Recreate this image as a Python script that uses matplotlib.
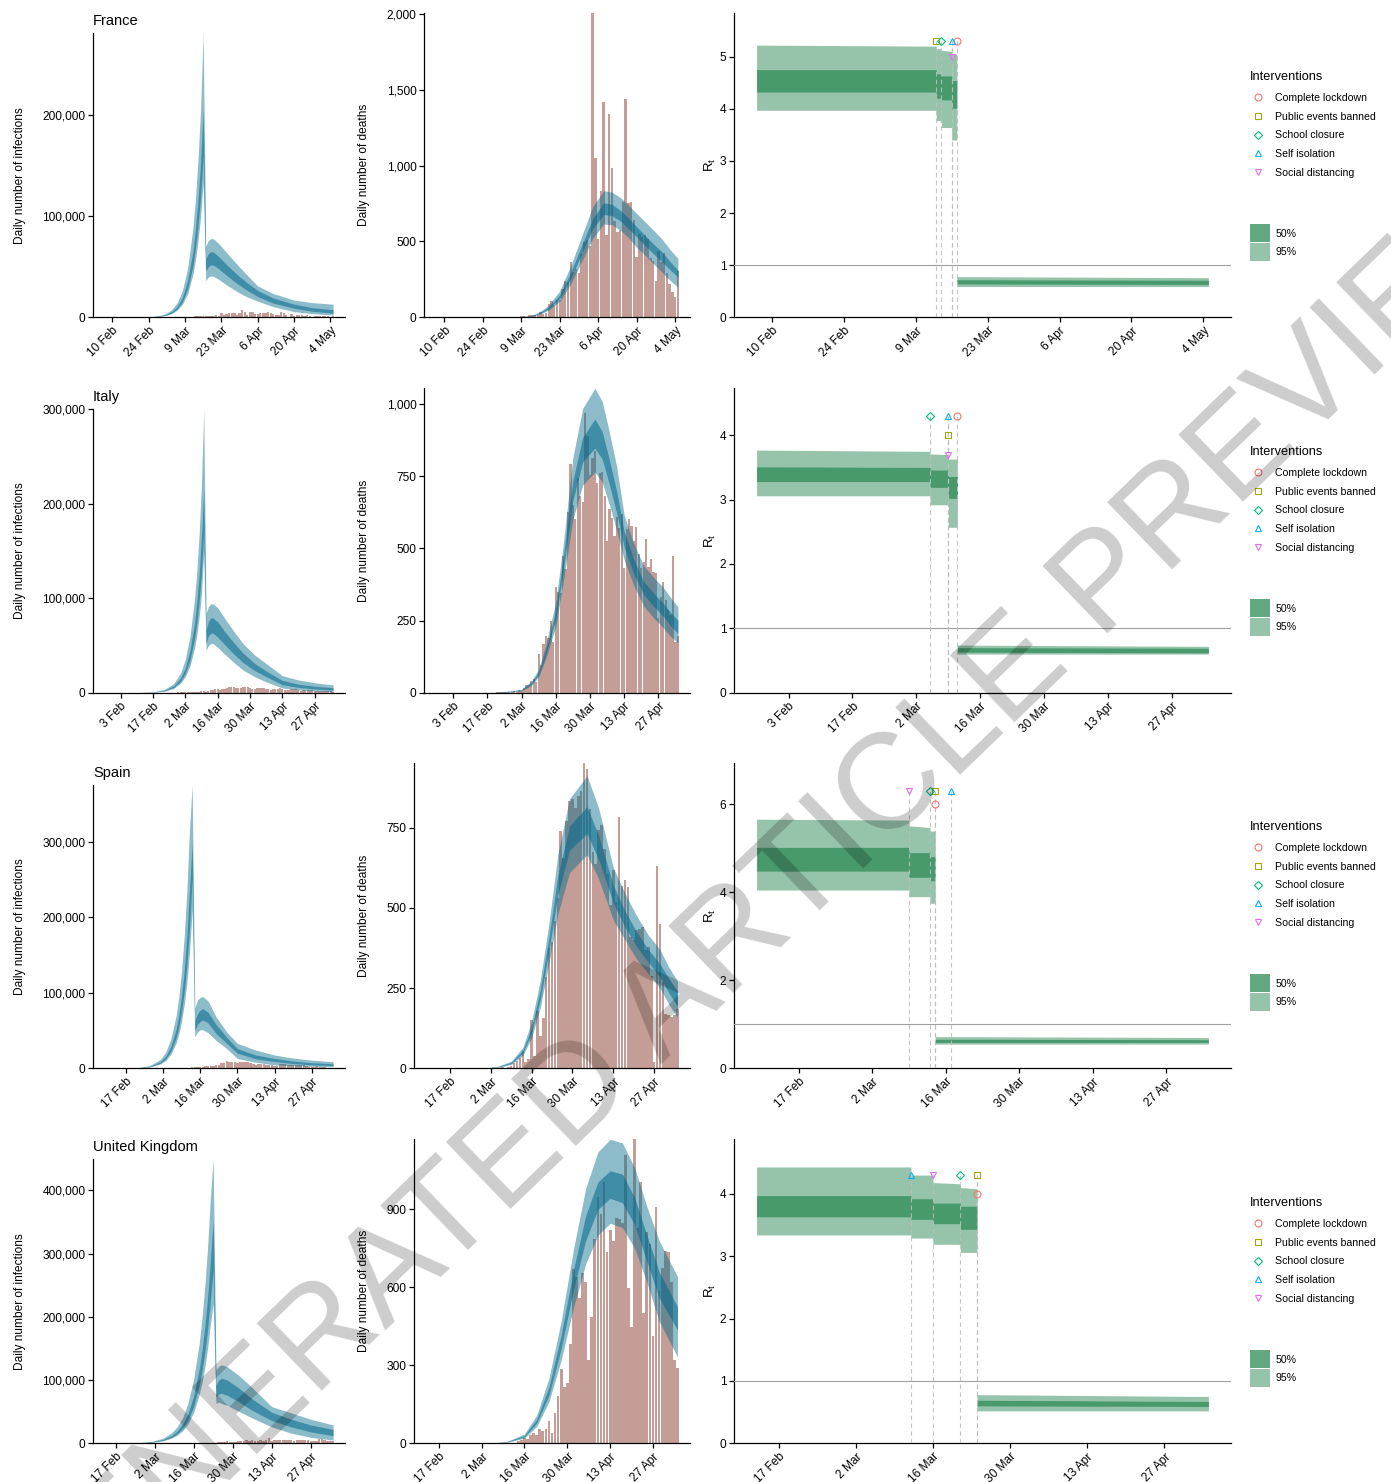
import numpy as np
import pandas as pd
import matplotlib
matplotlib.use("Agg")
import matplotlib.pyplot as plt
from matplotlib.lines import Line2D
from matplotlib.patches import Patch
from matplotlib.ticker import FuncFormatter, MultipleLocator
import matplotlib.dates as mdates

plt.rcParams['font.family'] = ['Liberation Sans', 'DejaVu Sans']
plt.rcParams['mathtext.fontset'] = 'custom'
plt.rcParams['mathtext.rm'] = 'Liberation Sans'

W, H = 1391, 1482

# ---------------- France ----------------
fr_start, fr_end, fr_tick0 = "02-07", "05-05", "02-10"
fr_inf_dates = ["02-07", "02-16", "02-22", "02-26", "02-29", "03-02", "03-04", "03-06", "03-08", "03-10",
                "03-12", "03-13", "03-14", "03-15", "03-16", "03-17", "03-18", "03-19", "03-20", "03-22",
                "03-25", "03-29", "04-02", "04-06", "04-12", "04-20", "04-27", "05-05"]
fr_inf_lo95 = [0, 0.03, 0.15, 0.48, 1.1, 2.1, 3.8, 7.0, 12.8, 23, 42, 56, 75, 99, 133,
               36, 40, 41, 40.5, 37.5, 32, 25.5, 20, 16, 10.5, 5.6, 3.6, 2.3]
fr_inf_lo50 = [0, 0.036, 0.18, 0.58, 1.35, 2.5, 4.5, 8.4, 15.3, 28, 50, 68, 90, 119, 160,
               46, 50, 52, 51.5, 48, 41.5, 33.5, 26.5, 20.5, 14, 9, 6, 4]
fr_inf_hi50 = [0.006, 0.046, 0.23, 0.74, 1.7, 3.2, 5.8, 10.7, 19.6, 36, 64, 86, 115, 152, 205,
               58, 63, 65, 64.5, 60, 52, 42.5, 34, 26.5, 19, 13, 9.5, 7.5]
fr_inf_hi95 = [0.008, 0.062, 0.31, 0.99, 2.3, 4.3, 7.8, 14.4, 26.4, 48, 87, 116, 155, 205, 281,
               70, 76, 78, 77.5, 73, 64, 52.5, 41.5, 31, 23.5, 17, 14.5, 13]
fr_cases_start = "03-10"
fr_cases = [370, 500, 600, 800, 800, 900, 1200, 1100, 1100, 1400, 1600, 1800, 1600, 3800, 2400, 2900,
            3900, 3800, 4600, 2600, 4400, 7600,
            4900, 2100, 5200, 5200, 3400, 2800, 3900, 4300, 4300, 4800, 4300, 3100, 2700, 2700, 5500,
            4600, 2600, 400, 2800, 1200, 2400, 2700, 1800, 1700, 1800, 1000, 450, 1400, 1500, 800,
            1100, 900, 800, 600, 800]
fr_dth_dates = ["02-07", "03-01", "03-09", "03-13", "03-16", "03-19", "03-23", "03-27", "03-31", "04-04",
                "04-08", "04-11", "04-14", "04-17", "04-20", "04-23", "04-26", "04-29", "05-02", "05-05"]
fr_dth_lo95 = [0, 0, 2, 7, 22, 48, 105, 220, 370, 520, 615, 610, 575, 525, 460, 410, 355, 300, 245, 200]
fr_dth_lo50 = [0, 0, 3, 9, 27, 57, 125, 255, 420, 585, 678, 670, 635, 585, 530, 475, 420, 370, 315, 267]
fr_dth_hi50 = [0, 0.5, 4, 11, 33, 68, 148, 295, 475, 650, 755, 745, 705, 655, 596, 540, 485, 435, 370, 311]
fr_dth_hi95 = [0, 1, 5, 14, 40, 80, 175, 340, 535, 730, 835, 825, 790, 740, 684, 630, 575, 520, 450, 388]
fr_deaths_start = "02-26"
fr_deaths = [1, 0, 0, 0,
             0, 1, 1, 0, 2, 2, 3, 2, 9, 11, 3, 15, 13, 18, 12, 36, 21, 27, 89, 108, 78, 112, 112, 186,
             240, 231, 365, 299, 319, 292, 418,
             499, 509, 471, 2004, 1053, 518, 833, 1417, 541, 1341, 987, 635, 561, 574, 762, 1438, 753,
             761, 642, 395, 547, 531, 544, 516, 389, 369, 242, 437, 367, 427,
             289, 218, 166, 135, 306]
fr_rt_dates = ["02-07", "03-13", "03-13", "03-14", "03-14", "03-16", "03-16", "03-17", "03-17", "05-05"]
fr_rt_lo95 = [3.97, 3.97, 3.77, 3.77, 3.64, 3.64, 3.40, 3.40, 0.59, 0.59]
fr_rt_lo50 = [4.32, 4.32, 4.20, 4.20, 4.17, 4.17, 4.01, 4.01, 0.64, 0.63]
fr_rt_hi50 = [4.75, 4.75, 4.67, 4.67, 4.63, 4.63, 4.54, 4.54, 0.72, 0.71]
fr_rt_hi95 = [5.22, 5.20, 5.15, 5.15, 5.12, 5.10, 5.05, 5.05, 0.78, 0.76]
fr_int_dates = ["03-17", "03-13", "03-14", "03-16", "03-16"]
fr_int_y = [5.3, 5.3, 5.3, 5.3, 5.0]

# ---------------- Italy ----------------
it_start, it_end, it_tick0 = "01-27", "05-05", "02-03"
it_inf_dates = ["01-27", "02-03", "02-10", "02-17", "02-22", "02-26", "02-29", "03-02", "03-04", "03-06",
                "03-07", "03-08", "03-09", "03-10", "03-11", "03-12", "03-13", "03-14", "03-16", "03-19",
                "03-23", "03-27", "04-01", "04-06", "04-13", "04-20", "04-27", "05-05"]
it_inf_lo95 = [0, 0.01, 0.07, 0.45, 1.6, 4.6, 10, 17, 28, 47, 61, 79, 104, 148,
               45, 50, 52, 52, 48, 41, 32, 24, 17, 11.5, 5, 3, 1.8, 1.1]
it_inf_lo50 = [0, 0.013, 0.085, 0.55, 2.0, 5.6, 12.2, 20.5, 34, 57, 74, 96, 126, 172,
               52, 60, 63, 63, 59, 51, 41, 32, 23.5, 17, 8.5, 5.6, 4, 2.8]
it_inf_hi50 = [0.005, 0.018, 0.11, 0.7, 2.6, 7.2, 15.6, 26, 44, 73, 95, 124, 162, 215,
               66, 75, 79, 79, 75, 65, 53, 42, 31, 23, 13, 9, 6.8, 5.2]
it_inf_hi95 = [0.01, 0.025, 0.15, 0.95, 3.5, 9.7, 21, 35, 59, 99, 128, 167, 220, 300,
               84, 91, 94, 94, 90, 79, 65, 52, 40, 31, 18, 13.5, 10.5, 8.2]
it_cases_start = "02-24"
it_cases = [53, 97, 93, 78, 250, 238,
            240, 561, 347, 466, 587, 769, 778, 1247, 1492, 1797, 977, 2313, 2651, 2547, 3497, 3590,
            3233, 3526, 4207, 5322, 5986, 6557, 5560, 4789, 5249, 5210, 6153, 5959, 5974, 5217, 4050,
            4053, 4782, 4668, 4585, 4805, 4316, 3599, 3039, 3836, 4204, 3951, 4694, 4092, 3153, 2972,
            2667, 3786, 3493, 3491, 3047, 2256, 2729, 3370, 2646, 3021, 2357, 2324, 1739, 2091, 2086,
            1872, 1965, 1900, 1389, 1221]
it_dth_dates = ["01-27", "02-20", "02-26", "03-02", "03-06", "03-09", "03-12", "03-16", "03-19", "03-23",
                "03-27", "04-01", "04-04", "04-07", "04-10", "04-13", "04-17", "04-21", "04-25", "04-29",
                "05-02", "05-05"]
it_dth_lo95 = [0, 0, 3, 6, 25, 55, 120, 230, 380, 600, 720, 765, 730, 650, 560, 460, 370, 300, 260, 225, 195, 172]
it_dth_lo50 = [0, 0, 4, 8, 30, 63, 135, 255, 420, 665, 800, 848, 810, 720, 620, 505, 410, 340, 300, 265, 232, 205]
it_dth_hi50 = [0, 0.5, 5, 10, 35, 72, 150, 285, 465, 735, 885, 948, 905, 805, 695, 560, 460, 385, 345, 310, 278, 251]
it_dth_hi95 = [0, 1, 6, 12, 40, 82, 168, 315, 510, 815, 985, 1055, 1010, 900, 780, 615, 515, 440, 400, 365, 330, 298]
it_deaths_start = "02-21"
it_deaths = [1, 1, 1, 1, 4, 3, 2, 5, 4,
             8, 5, 18, 27, 28, 41, 49, 36, 133, 97, 168, 196, 189, 250, 175, 368, 349, 345, 475, 427,
             627, 793, 651, 601, 743, 683, 662, 969, 889, 756, 812,
             837, 727, 760, 766, 681, 525, 636, 604, 542, 610, 570, 619, 431, 566, 602, 578, 525, 575,
             482, 433, 454, 534, 437, 464, 420, 415, 260, 333, 382, 323,
             285, 269, 474, 174, 195]
it_rt_dates = ["01-27", "03-05", "03-05", "03-09", "03-09", "03-11", "03-11", "05-05"]
it_rt_lo95 = [3.06, 3.06, 2.92, 2.92, 2.57, 2.57, 0.60, 0.60]
it_rt_lo50 = [3.28, 3.28, 3.19, 3.19, 3.02, 3.02, 0.63, 0.62]
it_rt_hi50 = [3.51, 3.50, 3.46, 3.46, 3.36, 3.36, 0.70, 0.69]
it_rt_hi95 = [3.77, 3.75, 3.71, 3.70, 3.63, 3.63, 0.74, 0.72]
it_int_dates = ["03-11", "03-09", "03-05", "03-09", "03-09"]
it_int_y = [4.3, 4.0, 4.3, 4.3, 3.7]

# ---------------- Spain ----------------
es_start, es_end, es_tick0 = "02-09", "05-05", "02-17"
es_inf_dates = ["02-09", "02-17", "02-22", "02-26", "03-01", "03-03", "03-05", "03-07", "03-08", "03-09",
                "03-10", "03-11", "03-12", "03-13", "03-14", "03-15", "03-16", "03-17", "03-19", "03-22",
                "03-26", "03-30", "04-06", "04-13", "04-20", "04-27", "05-05"]
es_inf_lo95 = [0, 0.12, 0.52, 1.7, 5.6, 10.2, 18.5, 34, 46, 62, 84, 113, 153, 210,
               42, 48, 51, 51, 47, 37, 26, 13, 8, 4.4, 3.2, 2.6, 2.2]
es_inf_lo50 = [0.01, 0.14, 0.63, 2.1, 6.8, 12.3, 22.5, 41, 55, 75, 101, 136, 184, 253,
               50, 58, 62, 64, 60, 46, 33, 20, 12.5, 9, 6.3, 4.6, 3.6]
es_inf_hi50 = [0.015, 0.18, 0.8, 2.6, 8.6, 15.7, 28.7, 52, 70, 95, 129, 174, 235, 298,
               63, 72, 77, 79, 74, 58, 41, 26, 17.5, 13, 9.5, 7.4, 6]
es_inf_hi95 = [0.02, 0.25, 1.1, 3.6, 11.6, 21, 39, 70, 95, 129, 174, 234, 316, 375,
               80, 90, 94, 95, 89, 68, 48, 33, 24, 17.6, 13.5, 10.8, 8.8]
es_cases_start = "03-05"
es_cases = [200, 150, 250, 350, 550, 600, 600, 900, 1300, 1500, 2000, 1400, 1900, 2500, 2800, 3500,
            3700, 3900, 4500, 6400, 7400, 9600, 8600, 8400, 8200, 6500, 7800,
            8200, 7700, 8100, 7100, 6000, 4300, 5500, 6200, 5800, 4600, 4800, 4800, 3300, 3500, 5100,
            5100, 5300, 4500, 4200, 4200, 4000, 4200, 4600, 4500, 3000, 1700, 1800, 2100, 2400, 1300,
            1200, 1100, 900, 800, 700]
es_dth_dates = ["02-09", "02-28", "03-04", "03-09", "03-13", "03-16", "03-19", "03-22", "03-25", "03-29",
                "04-04", "04-08", "04-13", "04-17", "04-21", "04-25", "04-29", "05-02", "05-05"]
es_dth_lo95 = [0, 0, 2, 12, 40, 95, 190, 330, 480, 610, 665, 590, 462, 400, 340, 295, 250, 200, 158]
es_dth_lo50 = [0, 0, 3, 15, 48, 110, 215, 370, 540, 680, 731, 650, 515, 440, 380, 330, 285, 235, 194]
es_dth_hi50 = [0, 0.5, 4, 18, 56, 125, 245, 410, 600, 755, 815, 725, 570, 490, 425, 370, 325, 280, 241]
es_dth_hi95 = [0, 1, 5, 22, 65, 145, 275, 455, 665, 840, 911, 810, 625, 545, 475, 415, 370, 315, 272]
es_deaths_start = "03-03"
es_deaths = [1, 0, 1, 3, 2, 5, 7, 18, 23, 33, 54, 20, 30, 150, 38, 179, 100, 158, 283, 376, 392, 459,
             532, 738, 655, 769, 832, 838, 812,
             849, 864, 950, 932, 809, 674, 637, 743, 757, 683, 605, 510, 619, 517, 783, 567, 585, 565,
             410, 399, 430, 435, 440, 367, 378, 288, 20, 630, 449, 268,
             170, 165, 160, 165, 185]
es_rt_dates = ["02-09", "03-09", "03-09", "03-13", "03-13", "03-14", "03-14", "05-05"]
es_rt_lo95 = [4.05, 4.05, 3.90, 3.90, 3.75, 3.75, 0.55, 0.55]
es_rt_lo50 = [4.48, 4.48, 4.34, 4.34, 4.26, 4.26, 0.59, 0.59]
es_rt_hi50 = [5.02, 5.02, 4.90, 4.90, 4.81, 4.81, 0.66, 0.65]
es_rt_hi95 = [5.66, 5.64, 5.51, 5.47, 5.39, 5.39, 0.72, 0.70]
es_int_dates = ["03-14", "03-14", "03-13", "03-17", "03-09"]
es_int_y = [6.0, 6.3, 6.3, 6.3, 6.3]

# ---------------- United Kingdom ----------------
uk_start, uk_end, uk_tick0 = "02-13", "05-05", "02-17"
uk_inf_dates = ["02-13", "02-19", "02-25", "03-01", "03-05", "03-08", "03-10", "03-12", "03-14", "03-16",
                "03-18", "03-19", "03-20", "03-21", "03-22", "03-23", "03-24", "03-25", "03-26", "03-28",
                "04-01", "04-06", "04-13", "04-20", "04-27", "05-05"]
uk_inf_lo95 = [0.03, 0.11, 0.4, 1.5, 3.9, 7.9, 12.4, 19.5, 31, 49, 77, 96, 120, 150, 188, 221,
               63, 65, 63, 60, 51, 40, 26, 16, 9.5, 5]
uk_inf_lo50 = [0.035, 0.13, 0.48, 1.8, 4.7, 9.5, 14.9, 23.4, 37, 58, 92, 115, 144, 180, 225, 274,
               73, 78, 79, 76, 66, 52, 36, 26, 18, 12]
uk_inf_hi50 = [0.045, 0.16, 0.61, 2.3, 6.0, 12.1, 19, 30, 47, 75, 117, 147, 184, 230, 288, 353,
               92, 100, 103, 100, 88, 70, 49, 38, 29, 22]
uk_inf_hi95 = [0.06, 0.22, 0.82, 3.1, 8.1, 16.3, 25.6, 40, 64, 101, 158, 198, 248, 310, 388, 449,
               116, 122, 124, 121, 108, 88, 58, 48, 38, 29]
uk_cases_start = "03-10"
uk_cases = [50, 80, 130, 210, 340, 340, 250, 150, 400, 680, 640, 710, 670, 970, 970, 1430, 1450, 2130,
            2890, 2550, 2430, 2620,
            3010, 4320, 4240, 4450, 3740, 5900, 3800, 3630, 5490, 4340, 5200, 7900, 4340, 5250, 4600,
            4620, 5600, 5530, 5850, 4680, 4300, 4450, 4450, 5380, 4910, 4460, 4310, 3990, 4080, 6030,
            6200, 4800, 4340, 4340, 3990]
uk_dth_dates = ["02-13", "03-05", "03-10", "03-16", "03-20", "03-24", "03-28", "04-01", "04-05", "04-09",
                "04-13", "04-17", "04-21", "04-25", "04-29", "05-05"]
uk_dth_lo95 = [0, 0, 3, 20, 65, 160, 320, 520, 690, 800, 846, 830, 750, 620, 470, 333]
uk_dth_lo50 = [0, 0, 4, 25, 78, 185, 365, 590, 780, 900, 942, 925, 840, 700, 560, 436]
uk_dth_hi50 = [0, 1, 5, 30, 92, 215, 415, 665, 875, 1005, 1048, 1035, 945, 800, 660, 525]
uk_dth_hi95 = [0, 2, 6, 36, 108, 250, 470, 745, 980, 1120, 1169, 1155, 1060, 910, 780, 641]
uk_deaths_start = "03-10"
uk_deaths = [1, 2, 1, 1, 10, 14, 20, 16, 33, 40, 33,
             56, 48, 54, 87, 41, 115, 181, 285, 218, 230, 381,
             669, 641, 558, 654, 621, 320, 487, 786, 949, 881, 1006, 737, 820, 778, 865, 861, 847, 1109,
             596, 449, 1169, 828, 1006, 500, 813, 768, 413, 910, 586, 674,
             739, 737, 621, 320, 290]
uk_rt_dates = ["02-13", "03-12", "03-12", "03-16", "03-16", "03-21", "03-21", "03-24", "03-24", "05-05"]
uk_rt_lo95 = [3.34, 3.34, 3.29, 3.29, 3.19, 3.19, 3.06, 3.06, 0.52, 0.52]
uk_rt_lo50 = [3.63, 3.63, 3.59, 3.59, 3.52, 3.52, 3.43, 3.43, 0.60, 0.59]
uk_rt_hi50 = [3.97, 3.97, 3.92, 3.92, 3.85, 3.85, 3.80, 3.80, 0.69, 0.67]
uk_rt_hi95 = [4.43, 4.43, 4.30, 4.30, 4.18, 4.16, 4.10, 4.08, 0.78, 0.75]
uk_int_dates = ["03-24", "03-24", "03-21", "03-12", "03-16"]
uk_int_y = [4.0, 4.3, 4.3, 4.3, 4.3]

interventions = ["Complete lockdown", "Public events banned", "School closure", "Self isolation",
                 "Social distancing"]
int_markers = ["o", "s", "D", "^", "v"]
int_msize = [5, 4.6, 4.0, 5, 5]
int_colors = ["#F8766D", "#A3A500", "#00BF7D", "#00B0F6", "#E76BF3"]

deaths_step = [500, 250, 250, 300]
rt_step = [1, 1, 2, 1]

BLUE = "#00688B"      # deepskyblue4
SEA = "#2E8B57"       # seagreen
CORAL = "#8B3E2F"     # coral4

# pixel layout of the reference
row_bottom = [317.3, 692.7, 1068.3, 1443.3]
col1_top = [33.3, 409.3, 785.0, 1159.3]
col23_top = [13.3, 388.3, 763.3, 1139.3]
col2_left = [424, 424, 414, 414]


def d(s):
    return pd.Timestamp("2020-" + s)


def dl(lst):
    return pd.to_datetime(["2020-" + s for s in lst])


countries = [
    dict(name="France", start=fr_start, end=fr_end, tick0=fr_tick0,
         inf=(fr_inf_dates, fr_inf_lo95, fr_inf_lo50, fr_inf_hi50, fr_inf_hi95),
         cases=(fr_cases_start, fr_cases),
         dth=(fr_dth_dates, fr_dth_lo95, fr_dth_lo50, fr_dth_hi50, fr_dth_hi95),
         deaths=(fr_deaths_start, fr_deaths),
         rt=(fr_rt_dates, fr_rt_lo95, fr_rt_lo50, fr_rt_hi50, fr_rt_hi95),
         ints=(fr_int_dates, fr_int_y)),
    dict(name="Italy", start=it_start, end=it_end, tick0=it_tick0,
         inf=(it_inf_dates, it_inf_lo95, it_inf_lo50, it_inf_hi50, it_inf_hi95),
         cases=(it_cases_start, it_cases),
         dth=(it_dth_dates, it_dth_lo95, it_dth_lo50, it_dth_hi50, it_dth_hi95),
         deaths=(it_deaths_start, it_deaths),
         rt=(it_rt_dates, it_rt_lo95, it_rt_lo50, it_rt_hi50, it_rt_hi95),
         ints=(it_int_dates, it_int_y)),
    dict(name="Spain", start=es_start, end=es_end, tick0=es_tick0,
         inf=(es_inf_dates, es_inf_lo95, es_inf_lo50, es_inf_hi50, es_inf_hi95),
         cases=(es_cases_start, es_cases),
         dth=(es_dth_dates, es_dth_lo95, es_dth_lo50, es_dth_hi50, es_dth_hi95),
         deaths=(es_deaths_start, es_deaths),
         rt=(es_rt_dates, es_rt_lo95, es_rt_lo50, es_rt_hi50, es_rt_hi95),
         ints=(es_int_dates, es_int_y)),
    dict(name="United Kingdom", start=uk_start, end=uk_end, tick0=uk_tick0,
         inf=(uk_inf_dates, uk_inf_lo95, uk_inf_lo50, uk_inf_hi50, uk_inf_hi95),
         cases=(uk_cases_start, uk_cases),
         dth=(uk_dth_dates, uk_dth_lo95, uk_dth_lo50, uk_dth_hi50, uk_dth_hi95),
         deaths=(uk_deaths_start, uk_deaths),
         rt=(uk_rt_dates, uk_rt_lo95, uk_rt_lo50, uk_rt_hi50, uk_rt_hi95),
         ints=(uk_int_dates, uk_int_y)),
]

fig = plt.figure(figsize=(W / 100, H / 100), dpi=100)


def add_ax(l, t, r, b):
    return fig.add_axes([l / W, 1 - b / H, (r - l) / W, (b - t) / H])


def date_label(x, pos):
    dt = mdates.num2date(x)
    return f"{dt.day} {dt:%b}"


def style(ax, c):
    for s in ("top", "right"):
        ax.spines[s].set_visible(False)
    for s in ("left", "bottom"):
        ax.spines[s].set_linewidth(0.9)
    ax.tick_params(length=3.5, width=0.9, labelsize=8.6, colors="black", pad=2)
    start, end = d(c["start"]), d(c["end"])
    pad = pd.Timedelta(days=0.05 * (end - start).days)
    lo, hi = start - pad, end + pad
    ax.set_xlim(lo, hi)
    ticks = [t for t in pd.date_range(d(c["tick0"]), hi, freq="14D") if t <= hi]
    ax.set_xticks(ticks)
    ax.xaxis.set_major_formatter(FuncFormatter(date_label))
    for lab in ax.get_xticklabels():
        lab.set_rotation(45)
        lab.set_ha("right")
        lab.set_rotation_mode("anchor")


def bands(ax, band, color, a95, a50, scale=1.0):
    x = dl(band[0])
    lo95, lo50, hi50, hi95 = (np.array(v, dtype=float) * scale for v in band[1:])
    ax.fill_between(x, lo95, hi95, color=color, alpha=a95, linewidth=0)
    ax.fill_between(x, lo50, hi50, color=color, alpha=a50, linewidth=0)
    return hi95.max()


comma = FuncFormatter(lambda v, p: f"{int(round(v)):,}")

for i, c in enumerate(countries):
    yb = row_bottom[i]

    # infections
    ax1 = add_ax(93, col1_top[i], 344.5, yb)
    cs, cv = c["cases"]
    ax1.bar(pd.date_range(d(cs), periods=len(cv)), cv, width=0.9, color=CORAL, alpha=0.5, linewidth=0)
    top = bands(ax1, c["inf"], BLUE, 0.45, 0.55, scale=1000)
    ax1.set_ylim(0, top)
    ax1.yaxis.set_major_locator(MultipleLocator(100000))
    ax1.yaxis.set_major_formatter(comma)
    style(ax1, c)
    ax1.set_ylabel("Daily number of infections", fontsize=8.6, labelpad=12)
    ax1.set_title(c["name"], loc="left", fontsize=10.5, pad=6)

    # deaths
    ax2 = add_ax(col2_left[i], col23_top[i], 690, yb)
    ds, dv = c["deaths"]
    ax2.bar(pd.date_range(d(ds), periods=len(dv)), dv, width=0.9, color=CORAL, alpha=0.5, linewidth=0)
    top = bands(ax2, c["dth"], BLUE, 0.45, 0.55)
    ax2.set_ylim(0, max(top, max(dv)))
    ax2.yaxis.set_major_locator(MultipleLocator(deaths_step[i]))
    ax2.yaxis.set_major_formatter(comma)
    style(ax2, c)
    ax2.set_ylabel("Daily number of deaths", fontsize=8.6, labelpad=12)

    # Rt
    ax3 = add_ax(734, col23_top[i], 1231, yb)
    top = bands(ax3, c["rt"], SEA, 0.5, 0.75)
    ax3.axhline(1, color="#a0a0a0", linewidth=0.8, zorder=3)
    idates, iy = c["ints"]
    for k in range(len(interventions)):
        xd = d(idates[k])
        ax3.plot([xd, xd], [0, max(y for dd, y in zip(idates, iy) if dd == idates[k])],
                 color="#BEBEBE", alpha=0.9, linewidth=0.8, linestyle=(0, (4, 3)), zorder=4)
    for k in range(len(interventions)):
        ax3.plot([d(idates[k])], [iy[k]], linestyle="none", marker=int_markers[k], markersize=int_msize[k],
                 markerfacecolor="none", markeredgecolor=int_colors[k], markeredgewidth=0.8, zorder=5)
    ax3.set_ylim(0, 1.1 * max(top, max(iy)))
    ax3.yaxis.set_major_locator(MultipleLocator(rt_step[i]))
    style(ax3, c)
    ax3.set_ylabel(r"$\mathrm{R_t}$", fontsize=9.5, labelpad=1)

    handles = [Line2D([], [], linestyle="none", marker=m, markersize=s, markerfacecolor="none",
                      markeredgecolor=col, markeredgewidth=0.8)
               for m, s, col in zip(int_markers, int_msize, int_colors)]
    t0 = col23_top[i]
    leg1 = ax3.legend(handles, interventions, title="Interventions", loc="upper left",
                      bbox_to_anchor=(1250 / W, 1 - (t0 + 58) / H), bbox_transform=fig.transFigure,
                      frameon=False, fontsize=7.6, title_fontsize=9.2, handlelength=1.5,
                      handletextpad=0.9, labelspacing=0.82, borderpad=0, borderaxespad=0)
    leg1._legend_box.align = "left"
    leg1._legend_box.sep = 7
    ax3.add_artist(leg1)
    patches = [Patch(facecolor=SEA, alpha=0.75, edgecolor="none"),
               Patch(facecolor=SEA, alpha=0.5, edgecolor="none")]
    ax3.legend(patches, ["50%", "95%"], loc="upper left",
               bbox_to_anchor=(1250 / W, 1 - (t0 + 211) / H), bbox_transform=fig.transFigure,
               frameon=False, fontsize=7.6, handlelength=1.85, handleheight=2.25,
               handletextpad=0.6, labelspacing=0.08, borderpad=0, borderaxespad=0)

fig.text(770 / W, 1 - 910 / H, "GENERATED ARTICLE PREVIEW", fontsize=98, rotation=44,
         color="black", alpha=0.2, ha="center", va="center", rotation_mode="anchor")

fig.savefig("out.png", dpi=100)
